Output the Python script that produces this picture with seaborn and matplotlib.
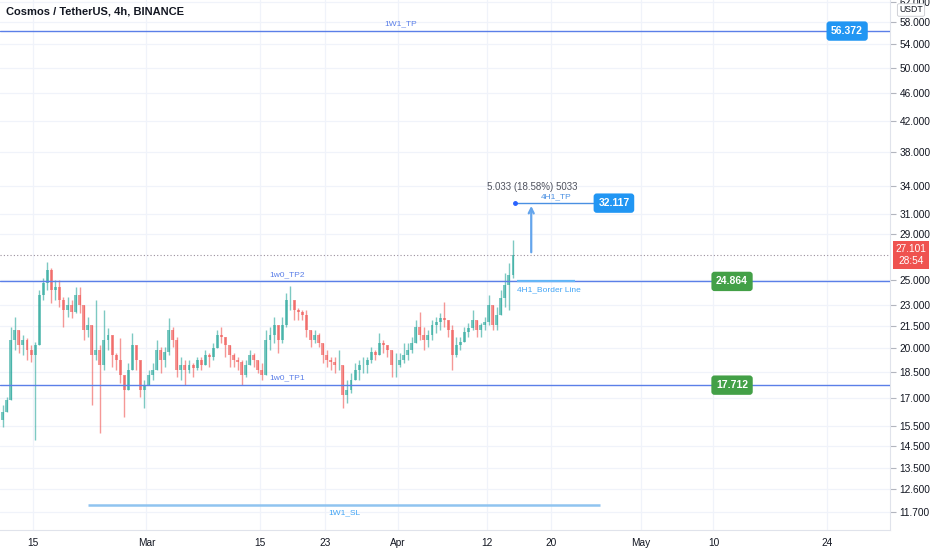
import numpy as np
import pandas as pd
import seaborn as sns
import matplotlib
matplotlib.use("Agg")
import matplotlib.pyplot as plt
import matplotlib.dates as mdates
from matplotlib.ticker import FixedLocator, NullLocator, FixedFormatter

# ---- DATA (12h candles from Feb 11 2021) ----
first_open = 15.82
highs = [16.61, 17.06, 21.44, 22.16, 21.02, 20.89, 20.68, 20.22, 20.42, 24.20,
         25.16, 26.52, 26.00, 25.00, 25.00, 23.66, 23.66, 23.42, 24.44, 24.44,
         22.67, 22.16, 21.23, 23.42, 20.22, 22.67, 21.37, 20.09, 19.69, 20.68,
         18.33, 19.06, 21.02, 19.89, 19.25, 18.03, 18.63, 19.06, 20.55, 20.09,
         20.09, 22.09, 21.44, 20.75, 19.43, 19.25, 19.25, 19.06, 19.43, 19.43,
         19.89, 19.69, 20.35, 21.23, 21.44, 20.68, 20.09, 19.69, 19.43, 19.25,
         19.25, 19.89, 19.69, 19.25, 19.06, 21.23, 21.44, 22.16, 21.44, 22.16,
         23.97, 24.52, 23.42, 22.82, 22.67, 22.67, 21.23, 21.23, 21.02, 20.35,
         19.89, 19.43, 19.43, 19.89, 18.63, 18.03, 18.45, 19.06, 19.25, 19.43,
         19.43, 20.09, 19.89, 21.02, 20.55, 20.09, 19.89, 19.69, 19.69, 20.35,
         20.35, 20.75, 21.94, 22.52, 21.44, 21.23, 21.94, 22.16, 22.45, 23.27,
         21.94, 21.58, 20.75, 20.75, 21.44, 21.73, 22.67, 21.94, 21.73, 22.16,
         23.81, 22.67, 22.89, 24.20, 25.58, 26.43, 28.50]
lows = [15.46, 16.24, 16.89, 19.89, 19.69, 19.56, 19.25, 19.12, 14.82, 20.22,
        23.42, 24.20, 23.19, 23.42, 22.89, 21.44, 22.16, 22.09, 22.45, 22.45,
        20.55, 20.75, 16.61, 19.25, 15.16, 18.63, 19.89, 18.81, 18.63, 17.86,
        15.98, 17.45, 18.63, 18.63, 17.06, 16.45, 17.74, 18.03, 18.63, 18.45,
        18.81, 19.56, 20.09, 18.21, 18.03, 17.74, 18.45, 18.21, 18.63, 18.63,
        19.06, 18.81, 19.25, 20.09, 20.35, 19.43, 18.81, 18.81, 18.63, 17.74,
        18.21, 19.06, 18.81, 18.45, 18.03, 19.25, 19.89, 20.35, 19.69, 20.35,
        21.44, 22.67, 21.94, 21.94, 21.94, 20.75, 20.09, 20.35, 20.09, 19.06,
        18.81, 18.63, 18.45, 18.63, 16.45, 16.72, 17.28, 18.03, 18.03, 18.45,
        18.45, 19.06, 19.25, 19.69, 19.69, 19.43, 18.21, 18.21, 18.81, 19.06,
        19.25, 19.69, 20.75, 20.55, 19.89, 20.09, 20.55, 21.02, 21.23, 21.44,
        20.75, 18.63, 19.43, 19.89, 20.55, 20.75, 21.23, 20.75, 20.75, 21.23,
        21.58, 21.23, 21.23, 22.45, 22.89, 22.67, 25.16]
closes = [16.24, 16.89, 20.55, 21.23, 20.22, 20.55, 19.89, 19.56, 20.22, 23.81,
          24.76, 25.83, 24.20, 24.44, 23.42, 22.67, 23.04, 22.52, 23.81, 23.04,
          21.23, 21.58, 19.56, 19.89, 18.93, 20.55, 20.89, 19.56, 19.25, 18.33,
          17.45, 18.63, 20.22, 19.25, 17.45, 17.74, 18.33, 18.63, 19.89, 19.25,
          19.76, 21.23, 20.55, 18.63, 18.93, 18.63, 18.93, 18.75, 19.25, 18.93,
          19.56, 19.43, 20.02, 20.89, 20.75, 20.22, 19.56, 19.25, 19.12, 18.33,
          18.93, 19.56, 19.25, 18.63, 18.33, 20.55, 20.89, 21.58, 20.55, 21.58,
          23.42, 23.42, 22.67, 22.52, 22.30, 21.23, 20.55, 20.89, 20.35, 19.56,
          19.25, 19.12, 18.93, 18.93, 17.17, 17.45, 18.03, 18.63, 18.93, 18.93,
          19.25, 19.76, 19.56, 20.35, 20.22, 19.89, 18.93, 18.93, 19.25, 19.56,
          19.89, 20.35, 21.44, 20.89, 20.55, 20.89, 21.58, 21.80, 22.09, 21.94,
          21.23, 19.56, 20.22, 20.42, 21.09, 21.37, 21.94, 21.23, 21.58, 21.80,
          23.04, 21.58, 22.30, 23.58, 24.60, 25.41, 27.101]

levels = {"1W1_TP": 56.372, "1w0_TP2": 24.864, "1w0_TP1": 17.712}
tp_4h = 32.117
border_4h = 24.864
sl_1w = 11.95
last_price = 27.101
measure_text = "5.033 (18.58%) 5033"

ytick_vals = [11.7, 12.6, 13.5, 14.5, 15.5, 17.0, 18.5, 20.0, 21.5, 23.0, 25.0,
              29.0, 31.0, 34.0, 38.0, 42.0, 46.0, 50.0, 54.0, 58.0, 62.0]
xtick_dates = ["2021-02-15", "2021-03-01", "2021-03-15", "2021-03-23", "2021-04-01",
               "2021-04-12", "2021-04-20", "2021-05-01", "2021-05-10", "2021-05-24"]
xtick_labels = ["15", "Mar", "15", "23", "Apr", "12", "20", "May", "10", "24"]

# ---- build candles ----
times = pd.date_range("2021-02-11 06:00", periods=len(closes), freq="12h")
df = pd.DataFrame({"t": mdates.date2num(times), "high": highs, "low": lows, "close": closes})
df["open"] = [first_open] + closes[:-1]
df["high"] = df[["high", "open", "close"]].max(axis=1)
df["low"] = df[["low", "open", "close"]].min(axis=1)
df["up"] = df["close"] >= df["open"]


def d(s):
    return mdates.date2num(pd.Timestamp(s))


sns.set_style("white")
plt.rcParams["font.family"] = ["Liberation Sans", "DejaVu Sans"]

fig = plt.figure(figsize=(9.32, 5.5), dpi=100)
ax = fig.add_axes([0, 20 / 550, 890 / 932, 530 / 550])

up_c, dn_c = "#26a69a", "#ef5350"
cols = np.where(df["up"], up_c, dn_c)
ax.vlines(df["t"], df["low"], df["high"], colors=cols, lw=1.0, alpha=0.6, zorder=3)
body_lo = df[["open", "close"]].min(axis=1)
body_h = (df["close"] - df["open"]).abs()
ax.bar(df["t"], body_h, bottom=body_lo, width=0.36, color=cols, alpha=0.6,
       linewidth=0, zorder=3)

ax.set_yscale("log")
ax.set_ylim(11.03, 62.4)
ax.set_xlim(d("2021-02-10 22:00"), d("2021-05-31 19:00"))

# grid / ticks
ax.yaxis.set_major_locator(FixedLocator(ytick_vals))
ax.yaxis.set_major_formatter(FixedFormatter(["%.3f" % v for v in ytick_vals]))
ax.yaxis.set_minor_locator(NullLocator())
ax.xaxis.set_major_locator(FixedLocator([d(s) for s in xtick_dates]))
ax.xaxis.set_major_formatter(FixedFormatter(xtick_labels))
ax.grid(True, color="#f0f3fa", lw=0.9, zorder=0)
ax.yaxis.tick_right()
ax.tick_params(axis="y", length=4, color="#b2b5be", labelsize=7.3,
               labelcolor="#131722", pad=3)
ax.tick_params(axis="x", length=0, labelsize=7.3, labelcolor="#131722", pad=6)
for s in ["left", "top"]:
    ax.spines[s].set_visible(False)
for s in ["right", "bottom"]:
    ax.spines[s].set_color("#e0e3eb")

# horizontal levels
blue = "#5b7fe8"
for name, val in levels.items():
    ax.axhline(val, color=blue, lw=1.0, zorder=4)
ax.text(d("2021-04-01 10:00"), levels["1W1_TP"] * 1.012, "1W1_TP", color=blue,
        fontsize=6, ha="center", va="bottom")
ax.text(d("2021-03-18 10:00"), levels["1w0_TP2"] * 1.012, "1w0_TP2", color=blue,
        fontsize=6, ha="center", va="bottom")
ax.text(d("2021-03-18 10:00"), levels["1w0_TP1"] * 1.012, "1w0_TP1", color=blue,
        fontsize=6, ha="center", va="bottom")

# current price dotted line
ax.axhline(last_price, color="#9a8f9c", lw=0.8, ls=(0, (1, 2)), zorder=2)

# 4h TP line, dot and measure arrow
ax.hlines(tp_4h, d("2021-04-15 12:00"), d("2021-04-25 15:00"), color="#4a90e2", lw=1.0, zorder=4)
ax.plot([d("2021-04-15 12:00")], [tp_4h], "o", color="#2962ff", ms=2.5, zorder=5)
ax.text(d("2021-04-20 14:00"), tp_4h * 1.008, "4H1_TP", color="#4a90e2",
        fontsize=6, ha="center", va="bottom")
ax.annotate("", xy=(d("2021-04-17 12:00"), tp_4h), xytext=(d("2021-04-17 12:00"), last_price),
            arrowprops=dict(arrowstyle="->", color="#64a5ec", lw=1.6, mutation_scale=9),
            zorder=5)
ax.text(d("2021-04-17 14:00"), 33.89, measure_text, color="#50535e", fontsize=7,
        ha="center", va="center")

# 4h border line
ax.hlines(border_4h, d("2021-04-15 18:00"), d("2021-04-22 22:00"), color="#64b5f6",
          lw=1.6, zorder=4)
ax.text(d("2021-04-15 18:00"), border_4h * 0.985, "4H1_Border Line", color="#42a5f5",
        fontsize=6, ha="left", va="top")

# 1W SL segment
ax.hlines(sl_1w, d("2021-02-21 19:00"), d("2021-04-26 00:00"), color="#90c4f0", lw=1.8, zorder=4)
ax.text(d("2021-03-25 10:00"), sl_1w * 0.988, "1W1_SL", color="#42a5f5",
        fontsize=6, ha="center", va="top")


# price tags
def tag(x, y, s, fc):
    ax.text(x, y, s, color="white", fontsize=7.5, fontweight="bold", ha="center",
            va="center", zorder=6,
            bbox=dict(boxstyle="round,pad=0.45,rounding_size=0.3", fc=fc, ec="none"))


tag(d("2021-05-26 12:00"), levels["1W1_TP"], "56.372", "#2196f3")
tag(d("2021-04-27 17:00"), tp_4h, "32.117", "#2196f3")
tag(d("2021-05-12 07:00"), levels["1w0_TP2"], "24.864", "#43a047")
tag(d("2021-05-12 07:00"), levels["1w0_TP1"], "17.712", "#43a047")

ax.text(911 / 890, last_price, "27.101\n28:54", transform=ax.get_yaxis_transform(),
        color="white", fontsize=7.3, ha="center", va="center", linespacing=1.15,
        zorder=7, clip_on=False,
        bbox=dict(boxstyle="square,pad=0.3", fc="#ef5350", ec="none"))

fig.text(911 / 932, 1 - 10 / 550, "USDT", fontsize=6.3, color="#131722", ha="center",
         va="center", zorder=10,
         bbox=dict(boxstyle="round,pad=0.2", fc="white", ec="#c8cad0", lw=0.6))

fig.text(6 / 932, 1 - 11 / 550, "Cosmos / TetherUS, 4h, BINANCE", fontsize=8,
         fontweight="bold", color="#131722", ha="left", va="center")

fig.savefig("out.png", dpi=100)
